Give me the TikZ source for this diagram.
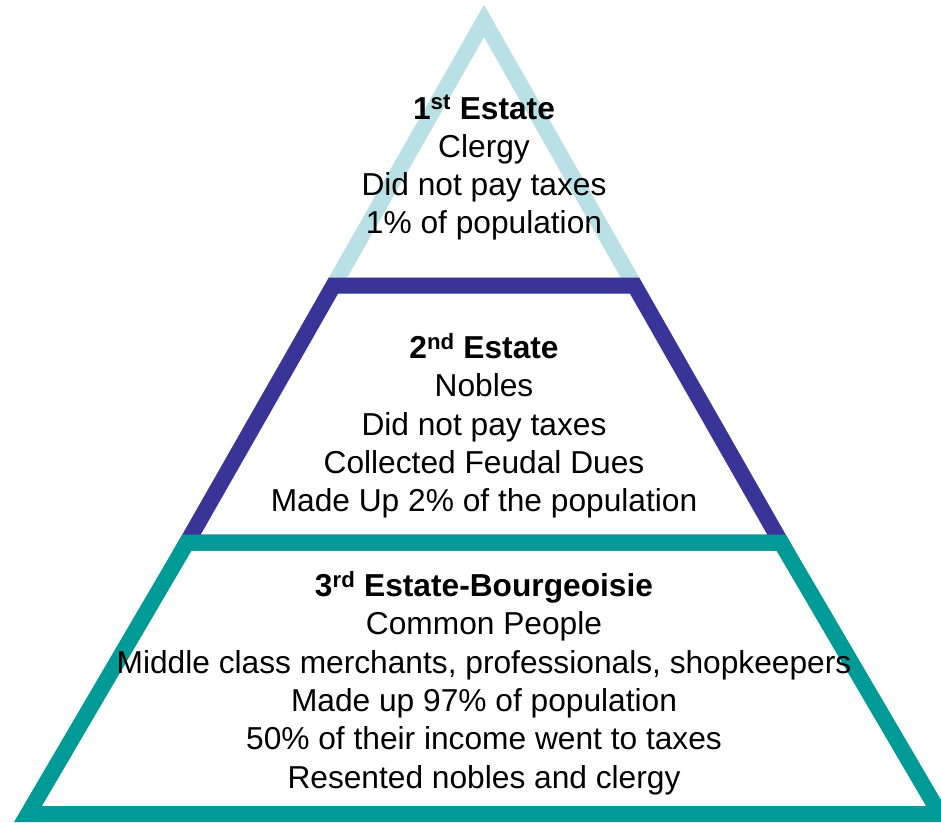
\documentclass[tikz,border=0pt]{standalone}
\usepackage{fontspec}
\setmainfont{Liberation Sans}
\definecolor{clergyblue}{RGB}{185,224,228}
\definecolor{noblepurple}{RGB}{56,52,152}
\definecolor{commonteal}{RGB}{0,155,150}
\begin{document}
\begin{tikzpicture}[x=1pt,y=-1pt,
  tier/.style={line width=16pt, line join=miter, miter limit=10},
  estatetext/.style={align=center, inner sep=0pt,
    font=\fontsize{31.7}{38.3}\selectfont}]
\useasboundingbox (0,0) rectangle (941,822);
\clip (0,0) rectangle (941,822);

% corner points of the three tiers
\coordinate (apex) at (484,21);
\coordinate (t1l) at (333.5,285.5);
\coordinate (t1r) at (634.5,285.5);
\coordinate (t2l) at (187,542.5);
\coordinate (t2r) at (781,542.5);
\coordinate (t3l) at (28,814);
\coordinate (t3r) at (940,814);

% tiers, top to bottom
\draw[tier, draw=clergyblue] (apex) -- (t1r) -- (t1l) -- cycle;
\draw[tier, draw=noblepurple] (t1l) -- (t1r) -- (t2r) -- (t2l) -- cycle;
\draw[tier, draw=commonteal] (t2l) -- (t2r) -- (t3r) -- (t3l) -- cycle;

% labels
\node[estatetext] (first) at (484,168)
  {\textbf{1\textsuperscript{st} Estate}\\Clergy\\Did not pay taxes\\1\% of population};
\node[estatetext] (second) at (484,426)
  {\textbf{2\textsuperscript{nd} Estate}\\Nobles\\Did not pay taxes\\Collected Feudal Dues\\Made Up 2\% of the population};
\node[estatetext] (third) at (484,683)
  {\textbf{3\textsuperscript{rd} Estate-Bourgeoisie}\\Common People\\Middle class merchants, professionals, shopkeepers\\Made up 97\% of population\\50\% of their income went to taxes\\Resented nobles and clergy};
\end{tikzpicture}
\end{document}
